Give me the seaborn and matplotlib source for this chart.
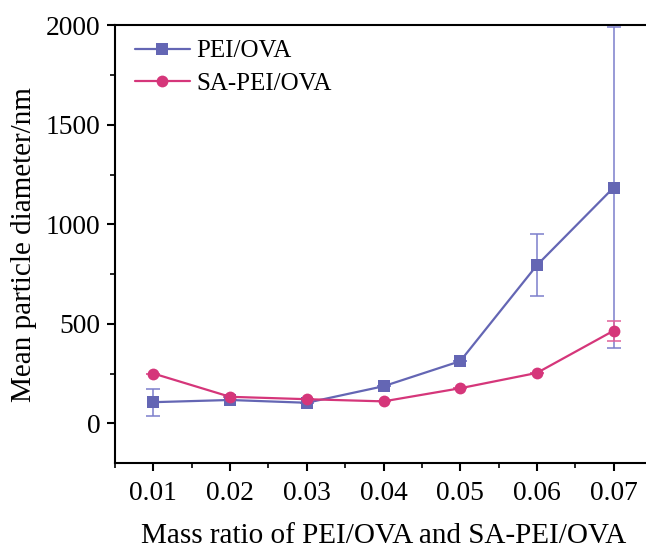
import matplotlib
matplotlib.use("Agg")
import matplotlib.pyplot as plt
import seaborn as sns
import pandas as pd
import numpy as np
from matplotlib.ticker import AutoMinorLocator

ratios = [0.01, 0.02, 0.03, 0.04, 0.05, 0.06, 0.07]
pei_mean = [107, 118, 104, 187, 313, 795, 1185]
pei_err = [68, 0, 0, 0, 0, 157, 805]
sa_mean = [251, 134, 122, 111, 177, 254, 466]
sa_err = [0, 0, 0, 0, 0, 0, 50]
series_names = ["PEI/OVA", "SA-PEI/OVA"]

c_pei = "#6466b4"
c_pei_err = "#7c7fcc"
c_sa = "#d5367a"
c_sa_err = "#e0609a"

sns.set_theme(style="ticks")
plt.rcParams["font.family"] = ["Liberation Serif", "DejaVu Serif"]
plt.rcParams["mathtext.fontset"] = "stix"
plt.rcParams["text.color"] = "black"
plt.rcParams["axes.labelcolor"] = "black"
plt.rcParams["xtick.color"] = "black"
plt.rcParams["ytick.color"] = "black"

df = pd.DataFrame({
    "ratio": ratios * 2,
    "diameter": pei_mean + sa_mean,
    "series": [series_names[0]] * 7 + [series_names[1]] * 7,
})

fig = plt.figure(figsize=(6.46, 5.48), dpi=100)
W, H = 646, 548
left, right, top, bottom = 115, 652, 25.3, 463.3
ax = fig.add_axes([left / W, 1 - bottom / H, (right - left) / W, (bottom - top) / H])

ax.errorbar(ratios, pei_mean, yerr=pei_err, fmt="none", ecolor=c_pei_err,
            elinewidth=1.1, capsize=5, capthick=1.1, zorder=2)
ax.errorbar(ratios, sa_mean, yerr=sa_err, fmt="none", ecolor=c_sa_err,
            elinewidth=1.1, capsize=5, capthick=1.1, zorder=2)

sns.lineplot(data=df, x="ratio", y="diameter", hue="series", style="series",
             palette={series_names[0]: c_pei, series_names[1]: c_sa},
             markers={series_names[0]: "s", series_names[1]: "o"},
             dashes=False, linewidth=1.6, markersize=8.5, markeredgewidth=0,
             ax=ax, zorder=3)

ax.set_xlim(0.005, 0.075)
ax.set_ylim(-200, 2000)
ax.set_xticks(ratios)
ax.set_xticklabels([f"{r:.2f}" for r in ratios])
ax.set_yticks([0, 500, 1000, 1500, 2000])
ax.xaxis.set_minor_locator(AutoMinorLocator(2))
ax.yaxis.set_minor_locator(AutoMinorLocator(2))

for s in ["left", "bottom", "top"]:
    ax.spines[s].set_linewidth(1.5)
    ax.spines[s].set_color("black")
ax.spines["right"].set_visible(False)

ax.tick_params(axis="both", which="major", direction="out", length=6, width=1.5,
               labelsize=19.8, colors="black", labelcolor="black", pad=4.5)
ax.tick_params(axis="both", which="minor", direction="out", length=3.5, width=1.2,
               colors="black")
ax.tick_params(axis="x", pad=7)

ax.set_xlabel("Mass ratio of PEI/OVA and SA-PEI/OVA", fontsize=21, labelpad=12,
              color="black")
ax.set_ylabel("Mean particle diameter/nm", fontsize=21, labelpad=6, color="black")

leg = ax.legend(loc="upper left", bbox_to_anchor=(-0.005, 1.018), frameon=False,
                fontsize=18, handlelength=2.2, handletextpad=0.25, labelspacing=0.4)
for h in leg.legend_handles:
    h.set_markersize(8.5)
for t in leg.get_texts():
    t.set_color("black")

fig.savefig("out.png", dpi=100)
